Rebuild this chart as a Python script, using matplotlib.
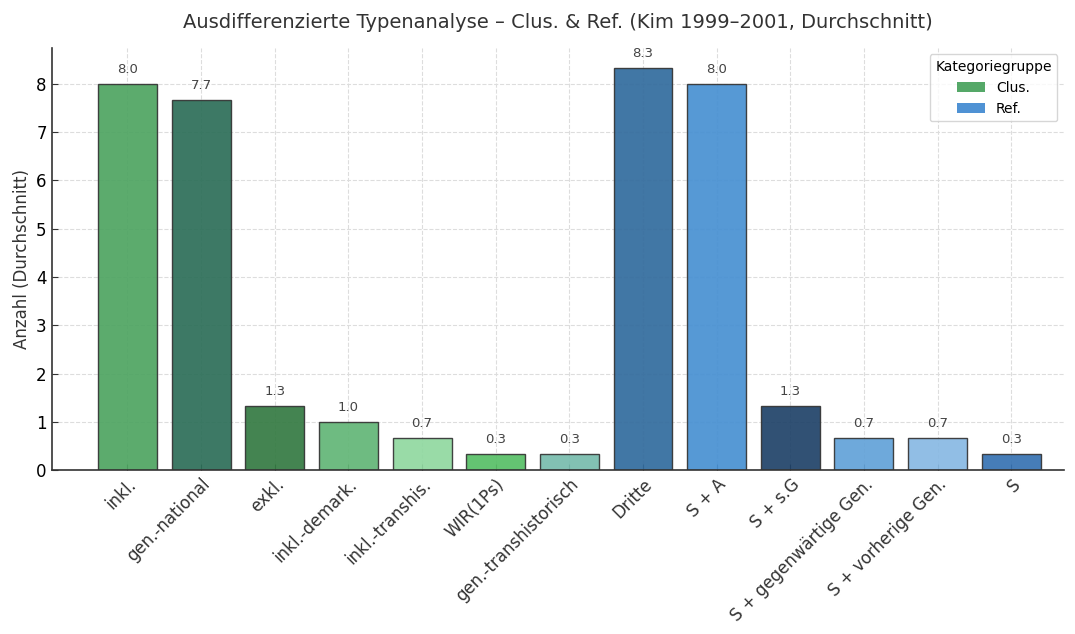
import matplotlib.pyplot as plt
import numpy as np
from matplotlib.patches import Patch

categories = ['inkl.', 'gen.-national', 'exkl.', 'inkl.-demark.', 'inkl.-transhis.',
              'WIR(1Ps)', 'gen.-transhistorisch', 'Dritte', 'S + A', 'S + s.G',
              'S + gegenwärtige Gen.', 'S + vorherige Gen.', 'S']
values = [8.0, 7.67, 1.33, 1.0, 0.67, 0.33, 0.33, 8.33, 8.0, 1.33, 0.67, 0.67, 0.33]
groups = ['Clus.'] * 7 + ['Ref.'] * 6
colors = ['#4ea461', '#2c6e58', '#347a42', '#62b676', '#90d8a0', '#57bf66', '#77bcad',
          '#316b9d', '#4790d2', '#1f4268', '#62a2d8', '#88b9e3', '#3672b2']
legend_colors = {'Clus.': '#55A868', 'Ref.': '#4f92d4'}

fig, ax = plt.subplots(figsize=(10.75, 6.34), dpi=100)
x = np.arange(len(categories))
ax.bar(x, values, width=0.8, color=colors, edgecolor='#333333',
       linewidth=1.0, alpha=0.92, zorder=2)

for xi, v in zip(x, values):
    ax.text(xi, v + 0.17, f'{v:.1f}', ha='center', va='bottom',
            fontsize=9.5, color='#444444')

ax.set_xticks(x)
ax.set_xticklabels(categories, rotation=45, ha='right', rotation_mode='anchor',
                   fontsize=12, color='#333333')
ax.tick_params(axis='both', direction='in', length=4, color='#333333')
ax.tick_params(axis='y', labelsize=12)
ax.set_xlim(-1.03, 12.72)
ax.set_ylim(0, 8.75)
ax.set_yticks(range(0, 9))

ax.grid(True, linestyle='--', color='#dddddd', linewidth=0.8, zorder=0)
ax.set_axisbelow(True)
for side in ['top', 'right']:
    ax.spines[side].set_visible(False)
for side in ['left', 'bottom']:
    ax.spines[side].set_color('#333333')
    ax.spines[side].set_linewidth(1.2)

ax.set_ylabel('Anzahl (Durchschnitt)', fontsize=12, color='#333333')
ax.set_title('Ausdifferenzierte Typenanalyse – Clus. & Ref. (Kim 1999–2001, Durchschnitt)',
             fontsize=14, color='#333333', pad=14)

handles = [Patch(facecolor=legend_colors[g], label=g) for g in ['Clus.', 'Ref.']]
leg = ax.legend(handles=handles, title='Kategoriegruppe', loc='upper right',
                fontsize=10, title_fontsize=10, frameon=True)
leg.get_frame().set_edgecolor('#cccccc')

fig.subplots_adjust(left=0.048, right=0.99, top=0.925, bottom=0.258)
fig.savefig('out.png', dpi=100)
